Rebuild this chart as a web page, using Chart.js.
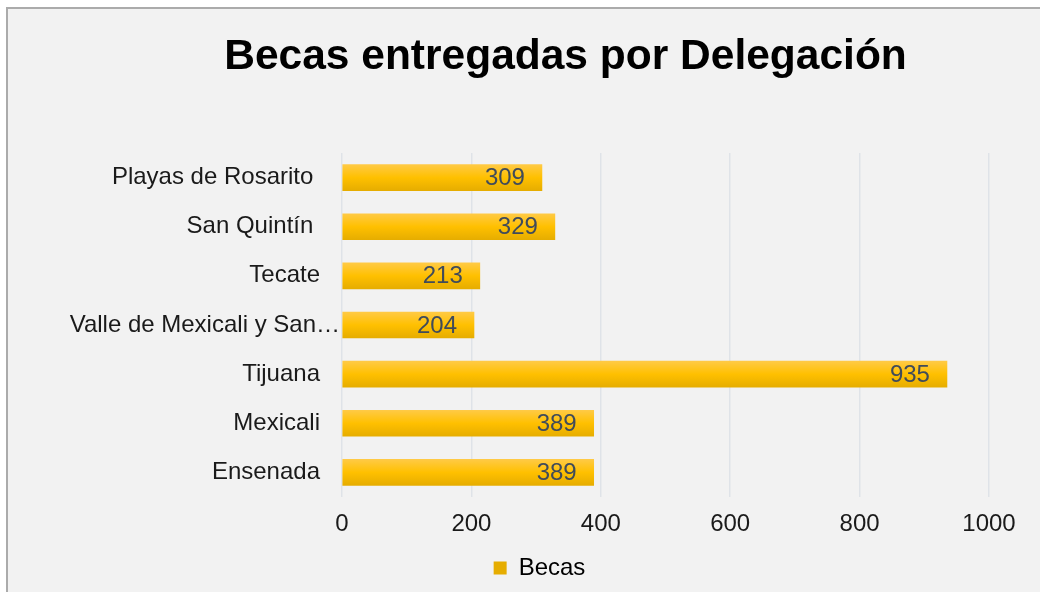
<!DOCTYPE html>
<html>
<head>
<meta charset="utf-8">
<script src="https://cdn.jsdelivr.net/npm/chart.js@4"></script>
<style>
  html, body { margin: 0; padding: 0; background: #fff; overflow: hidden; }
  .frame {
    position: absolute; left: 6px; top: 7px;
    border-left: 2px solid #ababab; border-top: 2px solid #ababab;
    background: #f2f2f2; width: 1062px; height: 600px;
  }
  canvas { display: block; }
</style>
</head>
<body>
<div class="frame"><canvas id="myChart" width="1062" height="600"></canvas></div>
<script>
const FONT = 'Arial, "Liberation Sans", sans-serif';

// Excel order, bottom to top
const delegaciones = [
  "Ensenada",
  "Mexicali",
  "Tijuana",
  "Valle de Mexicali y San\u2026",
  "Tecate",
  "San Quint\u00edn ",
  "Playas de Rosarito ",
];
const becas = [389, 389, 935, 204, 213, 329, 309];
const xTicks = [0, 200, 400, 600, 800, 1000];

const isCut = (s) => s.endsWith("\u2026");

function barFill(ctx) {
  if (ctx.dataIndex === undefined || !ctx.chart.chartArea) return "#ffc000";
  const c = ctx.chart.ctx;
  const y = ctx.chart.scales.y.getPixelForValue(ctx.dataIndex);
  const g = c.createLinearGradient(0, y - 13, 0, y + 13);
  g.addColorStop(0, "#ffca45");
  g.addColorStop(0.5, "#ffc000");
  g.addColorStop(1, "#e6ad00");
  return g;
}

// value labels at the inner end of each bar, plus the truncated category
// label, which Excel lets run up to the axis
const extraText = {
  id: "extraText",
  afterDatasetsDraw(chart) {
    const c = chart.ctx;
    const meta = chart.getDatasetMeta(0);
    const y = chart.scales.y;
    c.save();
    c.font = "24px " + FONT;
    c.textBaseline = "middle";
    c.textAlign = "right";
    c.fillStyle = "#404b5a";
    meta.data.forEach((bar, i) => {
      c.fillText(String(becas[i]), bar.x - 17, bar.y + 1);
    });
    c.fillStyle = "#1a1a1a";
    delegaciones.forEach((name, i) => {
      if (isCut(name)) c.fillText(name, chart.chartArea.left - 2, y.getPixelForTick(i));
    });
    c.restore();
  },
};

// Excel puts title and legend a bit right of the canvas centre
const shiftBlocks = {
  id: "shiftBlocks",
  afterLayout(chart) {
    chart.titleBlock.left += 67;
    chart.titleBlock.right += 67;
    chart.legend.left += 41;
    chart.legend.right += 41;
  },
};

new Chart("myChart", {
  type: "bar",
  data: {
    labels: delegaciones,
    datasets: [
      {
        label: "Becas",
        data: becas,
        backgroundColor: barFill,
        borderWidth: 0,
        barThickness: 26,
      },
    ],
  },
  plugins: [extraText, shiftBlocks],
  options: {
    indexAxis: "y",
    responsive: false,
    animation: false,
    layout: { padding: { left: 0, right: 81, top: 0, bottom: 19 } },
    plugins: {
      title: {
        display: true,
        text: "Becas entregadas por Delegaci\u00f3n",
        color: "#000",
        font: { family: FONT, size: 42.5, weight: "bold" },
        padding: { top: 22.5, bottom: 70.5 },
      },
      legend: {
        position: "bottom",
        labels: {
          color: "#000",
          font: { family: FONT, size: 24 },
          boxWidth: 13,
          boxHeight: 13,
          padding: 9,
        },
      },
      tooltip: { enabled: false },
    },
    scales: {
      x: {
        min: 0,
        max: 1000,
        afterBuildTicks(scale) {
          scale.ticks = xTicks.map((v) => ({ value: v }));
        },
        afterFit(scale) {
          scale.height = 50;
        },
        grid: { color: "#dfe3e8", lineWidth: 1.5, drawTicks: false },
        border: { display: false },
        ticks: {
          color: "#1a1a1a",
          font: { family: FONT, size: 24 },
          padding: 13,
          callback: (v) => String(v),
        },
      },
      y: {
        reverse: true,
        afterFit(scale) {
          scale.width = 334;
        },
        grid: { display: false, drawTicks: false },
        border: { display: false },
        ticks: {
          color: "#1a1a1a",
          font: { family: FONT, size: 24 },
          padding: 22,
          callback(v) {
            const name = this.getLabelForValue(v);
            return isCut(name) ? "" : name;
          },
        },
      },
    },
  },
});
</script>
</body>
</html>
